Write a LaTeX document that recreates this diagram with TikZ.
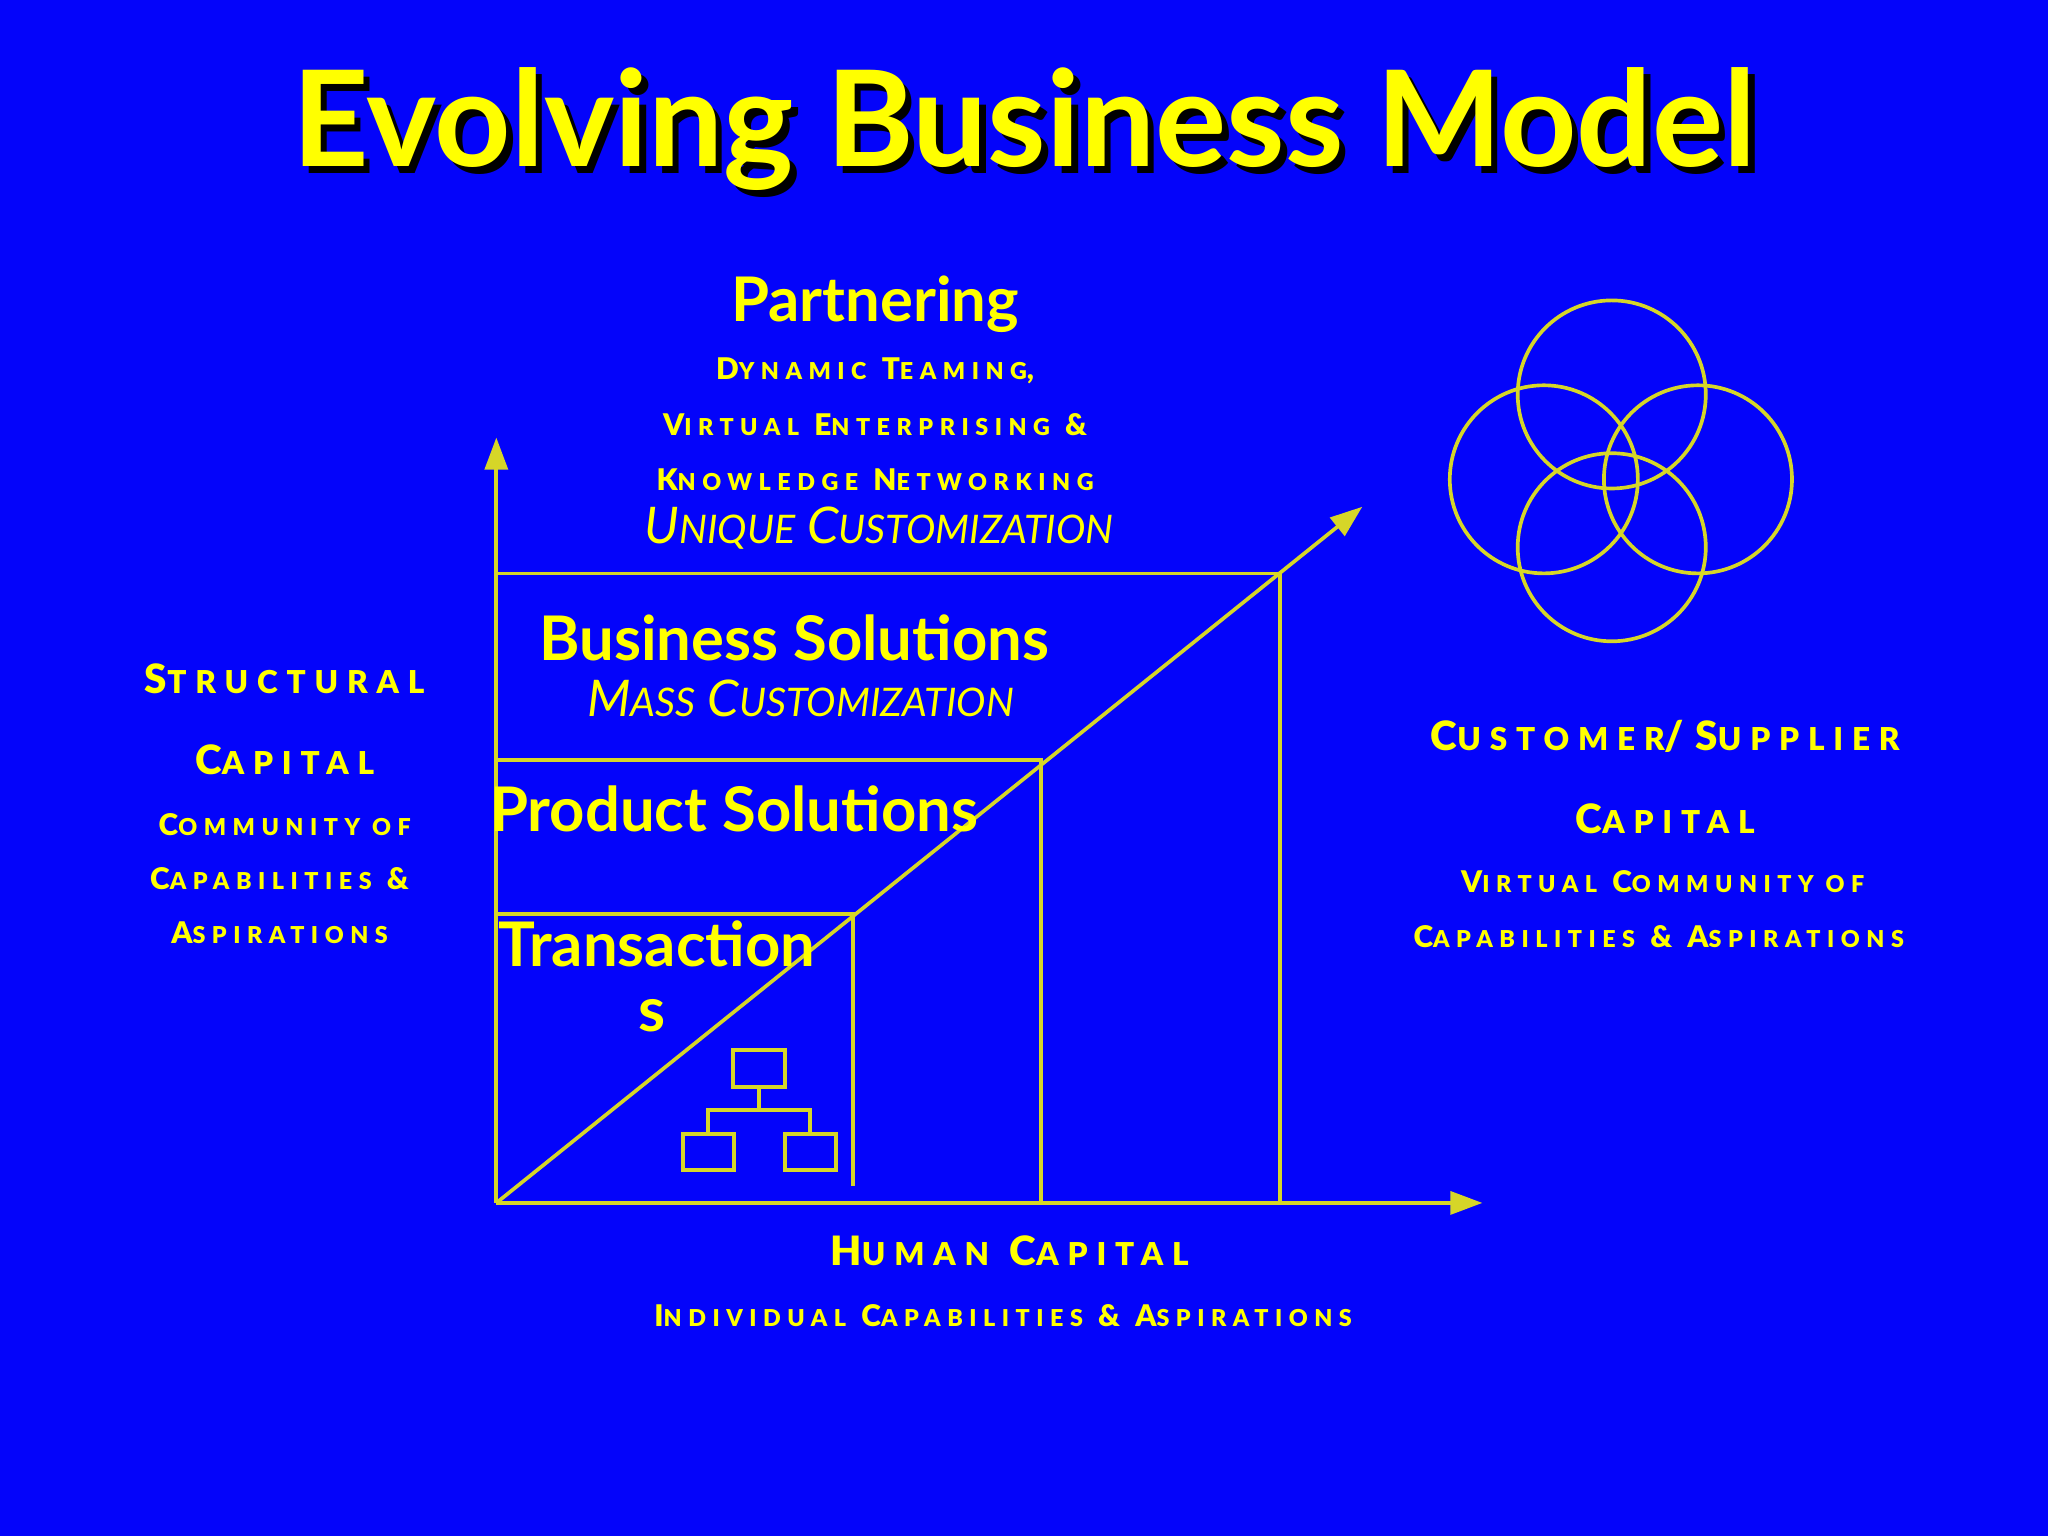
\documentclass[tikz,border=0pt]{standalone}
\usepackage{fontspec}
\setmainfont{Lato}
\usetikzlibrary{arrows.meta}
\definecolor{bg}{RGB}{4,4,250}
\definecolor{yel}{RGB}{255,255,0}
\definecolor{lin}{RGB}{214,214,40}
\newcommand\SC[2]{#1{\fontsize{0.78\dimexpr\fontdimen6\font\relax}{1}\selectfont#2}}
\newfontfamily\spaced[LetterSpace=28]{Lato Black}
\tikzset{ln/.style={draw=lin,line width=0.8pt},
 arr/.style={ln,-{Triangle[length=7pt,width=5pt]}},
 bt/.style={text=yel,font=\bfseries\fontsize{13.4}{16}\selectfont,inner sep=0},
 sc/.style={text=yel,font=\spaced\fontsize{8.8}{10}\selectfont,inner sep=0},
 scs/.style={text=yel,font=\spaced\fontsize{6.5}{8}\selectfont,inner sep=0},
 it/.style={text=yel,font=\itshape\fontsize{11}{13}\selectfont,inner sep=0}}
\begin{document}
\begin{tikzpicture}[x=0.01cm,y=-0.01cm]
\fill[bg] (0,0) rectangle (1568,1176);
\useasboundingbox (0,0) rectangle (1568,1176);
% title
\node[text=black,font=\bfseries\fontsize{29}{32}\selectfont,inner sep=0] (titles) at (789,104) {Evolving Business Model};
\node[text=yel,font=\bfseries\fontsize{29}{32}\selectfont,inner sep=0] (title) at (784,99) {Evolving Business Model};
% axes
\coordinate (o) at (380,921);
\coordinate (ytop) at (380,335);
\coordinate (xend) at (1135,921);
\coordinate (dend) at (1043,388);
\draw[arr] (o) -- (ytop);
\draw[arr] (o) -- (xend);
\draw[arr] (o) -- (dend);
\draw[ln] (380,439) -- (980,439) -- (980,921);
\draw[ln] (380,582) -- (797,582) -- (797,921);
\draw[ln] (380,700) -- (653,700) -- (653,908);
% org chart
\draw[ln] (561,804) rectangle (601,832);
\draw[ln] (581,832) -- (581,850) (542,868) -- (542,850) -- (620,850) -- (620,868);
\draw[ln] (523,868) rectangle (562,896);
\draw[ln] (601,868) rectangle (640,896);
% circles
\foreach \cx/\cy in {1234/302,1182/367,1300/367,1234/419}
  \draw[ln] (\cx,\cy) circle (72);
% texts
\node[bt] (part) at (670,233) {Partnering};
\node[scs] (p1) at (670,284) {\SC{D}{YNAMIC} \SC{T}{EAMING},};
\node[scs] (p2) at (670,325) {\SC{V}{IRTUAL} \SC{E}{NTERPRISING} \&};
\node[scs] (p3) at (670,367) {\SC{K}{NOWLEDGE} \SC{N}{ETWORKING}};
\node[it] (p4) at (673,404) {\SC{U}{NIQUE} \SC{C}{USTOMIZATION}};
\node[bt] (bs) at (608,488) {Business Solutions};
\node[it] (mc) at (613,535) {\SC{M}{ASS} \SC{C}{USTOMIZATION}};
\node[bt] (ps) at (562,619) {Product Solutions};
\node[bt] (tr) at (503,723) {Transaction};
\node[bt] (tr2) at (499,778) {s};
\node[sc] (l1) at (218,520) {\SC{S}{TRUCTURAL}};
\node[sc] (l2) at (218,582) {\SC{C}{APITAL}};
\node[scs] (l3) at (218,631) {\SC{C}{OMMUNITY OF}};
\node[scs] (l4) at (214,673) {\SC{C}{APABILITIES} \&};
\node[scs] (l5) at (214,714) {\SC{A}{SPIRATIONS}};
\node[sc] (r1) at (1275,564) {\SC{C}{USTOMER}/\SC{S}{UPPLIER}};
\node[sc] (r2) at (1275,627) {\SC{C}{APITAL}};
\node[scs] (r3) at (1273,675) {\SC{V}{IRTUAL} \SC{C}{OMMUNITY OF}};
\node[scs] (r4) at (1270,717) {\SC{C}{APABILITIES} \& \SC{A}{SPIRATIONS}};
\node[sc] (b1) at (773,958) {\SC{H}{UMAN} \SC{C}{APITAL}};
\node[scs] (b2) at (768,1007) {\SC{I}{NDIVIDUAL} \SC{C}{APABILITIES} \& \SC{A}{SPIRATIONS}};
\end{tikzpicture}
\end{document}
